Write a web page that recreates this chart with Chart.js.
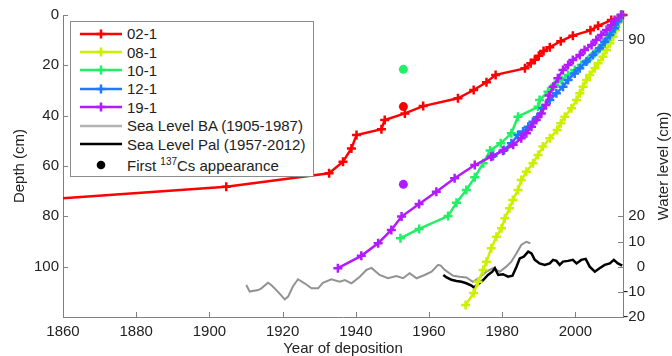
<!DOCTYPE html>
<html>
<head>
<meta charset="utf-8">
<script src="https://cdn.jsdelivr.net/npm/chart.js@4/dist/chart.umd.min.js"></script>
<style>
  body { margin: 0; background: #fff; }
  #wrap { position: relative; width: 672px; height: 356px; }
  #legend {
    position: absolute; left: 70px; top: 21px; width: 242px; height: 154px;
    border: 1px solid #8c8c8c; background: #fff;
    font: 15px "Liberation Sans", Arial, sans-serif; color: #222;
  }
  .row { position: absolute; left: 9px; height: 18px; display: flex; align-items: center; white-space: nowrap; }
  .row svg { margin-right: 5px; }
  sup { font-size: 10px; vertical-align: 6px; line-height: 0; }
</style>
</head>
<body>
<div id="wrap">
  <canvas id="chart" width="672" height="356"></canvas>
  <div id="legend"></div>
</div>
<script>
// cores
const coreNames  = ['02-1', '08-1', '10-1', '12-1', '19-1'];
const coreColors = ['#ff0000', '#ccf000', '#22ee66', '#2277ff', '#b31aff'];

const yr021 = [1840, 1904.6, 1932.7, 1936.5, 1938.8, 1940.2, 1947.0, 1947.9, 1953.4, 1958.4, 1967.9, 1972.2, 1975.7, 1978.2,
  1986.2, 1987.8, 1988.9, 1990.0, 1991.3, 1993.0, 1996.0, 1999.3, 2004.1, 2006.2, 2009.8, 2013];
const dp021 = [74.9, 68.2, 62.9, 58.3, 53.0, 47.7, 45.4, 41.7, 39.1, 36.2, 33.1, 29.8, 26.7, 23.8,
  21.2, 19.2, 17.8, 16.2, 14.3, 12.8, 10.4, 8.2, 6.1, 4.3, 2.0, 0];

const yr081 = [1970.0, 1972.2, 1973.4, 1974.8, 1975.7, 1977.0, 1978.4, 1979.8, 1980.7, 1982.0, 1982.9, 1984.3, 1985.2, 1986.6,
  1988.4, 1989.8, 1991.1, 1993.0, 1995.0, 1996.0, 1997.1, 1998.9, 2000.3, 2001.2, 2002.1, 2003.0, 2003.9, 2005.3, 2006.2,
  2007.5, 2008.5, 2009.4, 2010.3, 2011.0, 2011.6, 2012.5];
const dp081 = [115.2, 110.5, 106.0, 101.3, 98.0, 92.7, 88.1, 84.7, 80.8, 76.8, 73.5, 69.5, 65.6, 62.3,
  58.9, 55.6, 52.3, 49.0, 45.7, 43.0, 40.4, 37.1, 33.8, 31.1, 28.5, 25.8, 23.8, 21.2, 19.2,
  16.6, 13.9, 11.2, 8.6, 6.0, 3.3, 0];

const yr101 = [1952.2, 1957.3, 1965.2, 1967.5, 1970.2, 1972.5, 1974.8, 1976.7, 1979.6, 1982.5, 1984.3, 1989.8, 1990.2,
  1992.5, 1994.3, 1996.2, 1998.0, 1999.8, 2001.6, 2003.4, 2005.3, 2007.1, 2008.5, 2009.8, 2011.0, 2011.9, 2012.5];
const dp101 = [88.7, 85.0, 79.9, 74.6, 69.5, 64.5, 58.9, 53.8, 51.0, 47.0, 40.4, 36.5, 33.8,
  30.5, 27.8, 25.8, 23.8, 21.9, 19.9, 17.9, 15.2, 12.6, 9.9, 7.3, 4.6, 2.0, 0];

const yr121 = [1977.5, 1980.5, 1982.5, 1984.3, 1985.7, 1987.1, 1988.4, 1989.6, 1991.1, 1993.0, 1994.8, 1996.6, 1998.0,
  1999.8, 2001.2, 2003.0, 2004.8, 2006.6, 2008.0, 2009.4, 2010.7, 2011.6, 2012.5];
const dp121 = [56.0, 53.6, 51.0, 47.7, 46.3, 44.4, 42.4, 40.6, 37.1, 33.8, 31.1, 28.5, 25.8,
  23.2, 21.2, 18.5, 15.9, 13.2, 10.6, 7.9, 5.3, 2.6, 0];

const yr191 = [1935.1, 1941.5, 1946.1, 1949.7, 1952.5, 1957.3, 1962.0, 1967.0, 1972.5, 1977.0, 1980.2, 1983.0, 1985.2,
  1986.6, 1988.0, 1989.3, 1990.7, 1991.9, 1992.8, 1993.9, 1995.2, 1996.6, 1998.0, 1999.3, 2001.2, 2002.5, 2004.4,
  2005.7, 2007.1, 2008.5, 2009.8, 2010.7, 2012.5];
const dp191 = [100.6, 95.7, 90.7, 85.4, 80.1, 75.1, 70.2, 64.9, 59.6, 56.3, 53.9, 51.6, 49.0,
  47.0, 44.4, 41.7, 39.1, 35.8, 32.0, 28.5, 25.1, 21.9, 19.9, 17.9, 15.9, 13.9, 11.9,
  9.9, 7.9, 6.0, 4.0, 2.0, 0];

// first 137Cs appearance (02-1, 10-1, 19-1)
const csYears  = [1953, 1953, 1953];
const csDepths = [36.4, 21.6, 67.3];
const csCores  = [0, 2, 4];

// sea level (water level, cm)
const yrBA = [1910.1, 1911.0, 1913.3, 1914.2, 1916.0, 1916.9, 1918.5, 1920.6, 1921.5, 1922.8, 1924.2, 1926.0, 1927.9,
  1929.7, 1931.0, 1933.3, 1935.6, 1937.0, 1938.8, 1941.1, 1942.9, 1944.3, 1946.5, 1948.8, 1951.1, 1952.9, 1954.7,
  1956.6, 1958.8, 1960.7, 1962.5, 1963.2, 1964.3, 1966.6, 1968.4, 1970.2, 1972.0, 1973.8, 1975.7, 1977.5, 1979.3,
  1981.1, 1982.5, 1983.9, 1985.2, 1986.6, 1987.7];
const lvBA = [-7.3, -9.9, -9.3, -8.6, -6.4, -7.3, -9.6, -13.0, -11.9, -7.9, -5.0, -6.6, -8.6,
  -8.6, -6.4, -5.0, -6.0, -5.3, -6.6, -4.0, -1.3, -0.5, -3.3, -4.6, -3.7, -4.6, -2.6,
  -4.6, -3.3, -2.0, 0.7, 0.4, -1.3, -3.6, -4.0, -4.3, -6.0, -4.3, -2.0, -0.6, -2.0,
  0, 2.0, 5.3, 8.6, 9.9, 9.3];

const yrPal = [1963.9, 1964.8, 1966.1, 1967.5, 1968.9, 1970.2, 1971.6, 1972.3, 1973.4, 1974.8, 1976.1, 1977.3, 1978.0,
  1978.9, 1980.2, 1981.6, 1982.8, 1983.9, 1984.8, 1985.9, 1987.1, 1988.0, 1988.9, 1990.2, 1991.6, 1993.0, 1993.9,
  1994.8, 1995.7, 1996.6, 1998.0, 1999.3, 2000.3, 2001.6, 2002.8, 2003.9, 2005.3, 2006.6, 2008.0, 2009.4, 2010.5,
  2011.6, 2012.8];
const lvPal = [-3.3, -4.3, -5.2, -5.7, -6.0, -6.6, -7.5, -8.3, -7.0, -5.3, -3.3, -2.0, -0.6,
  -3.3, -3.0, -4.0, -3.6, 0, 3.3, 4.0, 6.0, 5.3, 2.7, 1.3, 0.7, 1.3, 2.7,
  2.3, 0.7, 2.0, 2.3, 2.7, 1.3, 2.7, 3.1, 0, -2.0, -0.6, 0.7, 1.3, 2.7,
  1.3, 0.4];

// ticks
const xTicks = [1860, 1880, 1900, 1920, 1940, 1960, 1980, 2000];
const depthTicks = [0, 20, 40, 60, 80, 100];
const levelTicks = [-20, -10, 0, 10, 20, 90];

const FONT = '"Liberation Sans", Arial, sans-serif';
Chart.defaults.font.family = FONT;
Chart.defaults.font.size = 15;
Chart.defaults.color = '#222';

function pts(xs, ys) {
  return xs.map((x, i) => ({ x: x, y: ys[i] }));
}

const coreYears = [yr021, yr081, yr101, yr121, yr191];
const coreDepths = [dp021, dp081, dp101, dp121, dp191];

let datasets = [];
coreNames.forEach((name, i) => {
  datasets.push({
    label: name,
    data: pts(coreYears[i], coreDepths[i]),
    yAxisID: 'y',
    showLine: true,
    borderColor: coreColors[i],
    backgroundColor: coreColors[i],
    borderWidth: 2.5,
    pointStyle: 'cross',
    pointRadius: 4.5,
    pointBorderWidth: 2.5,
    pointBorderColor: coreColors[i],
    tension: 0,
    clip: { left: 0, top: 6, right: 6, bottom: 0 },
    order: 7 - i
  });
});

datasets.push({
  label: 'Sea Level BA (1905-1987)',
  data: pts(yrBA, lvBA),
  yAxisID: 'y2',
  showLine: true,
  borderColor: '#929292',
  borderWidth: 2,
  pointRadius: 0,
  tension: 0,
  order: 10
});
datasets.push({
  label: 'Sea Level Pal (1957-2012)',
  data: pts(yrPal, lvPal),
  yAxisID: 'y2',
  showLine: true,
  borderColor: '#000',
  borderWidth: 2.5,
  pointRadius: 0,
  tension: 0,
  order: 9
});
datasets.push({
  label: 'First 137Cs appearance',
  data: pts(csYears, csDepths),
  yAxisID: 'y',
  showLine: false,
  pointStyle: 'circle',
  pointRadius: 4.5,
  pointBorderWidth: 0,
  pointBackgroundColor: csCores.map(c => coreColors[c]),
  order: 1
});

// inward tick marks + right axis title (reads bottom to top)
const extras = {
  id: 'extras',
  afterDraw(chart) {
    const ctx = chart.ctx;
    const a = chart.chartArea;
    const sx = chart.scales.x, sy = chart.scales.y, sy2 = chart.scales.y2;
    ctx.save();
    ctx.strokeStyle = '#808080';
    ctx.lineWidth = 1;
    ctx.beginPath();
    sx.ticks.forEach(t => {
      const px = Math.round(sx.getPixelForValue(t.value)) + 0.5;
      ctx.moveTo(px, a.bottom); ctx.lineTo(px, a.bottom - 5);
    });
    sy.ticks.forEach(t => {
      const py = Math.round(sy.getPixelForValue(t.value)) + 0.5;
      ctx.moveTo(a.left, py); ctx.lineTo(a.left + 5, py);
    });
    sy2.ticks.forEach(t => {
      const py = Math.round(sy2.getPixelForValue(t.value)) + 0.5;
      ctx.moveTo(a.right, py); ctx.lineTo(a.right - 5, py);
    });
    ctx.stroke();

    ctx.translate(664, (a.top + a.bottom) / 2);
    ctx.rotate(-Math.PI / 2);
    ctx.fillStyle = '#222';
    ctx.font = '15px ' + FONT;
    ctx.textAlign = 'center';
    ctx.textBaseline = 'middle';
    ctx.fillText('Water level (cm)', 0, 0);
    ctx.restore();
  }
};

new Chart(document.getElementById('chart'), {
  type: 'scatter',
  data: { datasets: datasets },
  options: {
    responsive: false,
    animation: false,
    events: [],
    layout: { padding: { top: 15, right: 27, left: 0, bottom: 0 } },
    plugins: { legend: { display: false }, tooltip: { enabled: false } },
    scales: {
      x: {
        type: 'linear', min: 1860, max: 2013,
        afterBuildTicks: s => { s.ticks = xTicks.map(v => ({ value: v })); },
        afterFit: s => { s.height = 39; },
        grid: { display: false, drawTicks: false },
        border: { display: true, color: '#808080' },
        ticks: { padding: 6, maxRotation: 0, autoSkip: false, callback: v => String(v) },
        title: { display: true, text: 'Year of deposition', font: { size: 15, lineHeight: 1 }, padding: { top: 0, bottom: 0 } }
      },
      y: {
        type: 'linear', position: 'left', reverse: true, min: 0, max: 120,
        afterBuildTicks: s => { s.ticks = depthTicks.map(v => ({ value: v })); },
        afterFit: s => { s.width = 63; },
        grid: { display: false, drawTicks: false },
        border: { display: true, color: '#808080' },
        ticks: { padding: 4, autoSkip: false },
        title: { display: true, text: 'Depth (cm)', font: { size: 15, lineHeight: 1 }, padding: { top: 12, bottom: 0 } }
      },
      y2: {
        type: 'linear', position: 'right', min: -20, max: 100,
        afterBuildTicks: s => { s.ticks = levelTicks.map(v => ({ value: v })); },
        afterFit: s => { s.width = 22; },
        grid: { display: false, drawTicks: false },
        border: { display: true, color: '#808080' },
        ticks: { padding: 2, autoSkip: false, crossAlign: 'far' }
      }
    }
  },
  plugins: [extras]
});

// legend box
const legendItems = coreNames.map((n, i) => ({ text: n, color: coreColors[i], kind: 'cross' }))
  .concat([
    { text: 'Sea Level BA (1905-1987)', color: '#b4b4b4', kind: 'line' },
    { text: 'Sea Level Pal (1957-2012)', color: '#000', kind: 'line' },
    { html: 'First <sup>137</sup>Cs appearance', color: '#000', kind: 'dot' }
  ]);
const legend = document.getElementById('legend');
legendItems.forEach((it, i) => {
  const row = document.createElement('div');
  row.className = 'row';
  row.style.top = (2.6 + i * 18.4 + (i === 7 ? 3 : 0)) + 'px';
  let svg = '<svg width="42" height="12" viewBox="0 0 42 12">';
  if (it.kind !== 'dot') {
    svg += '<line x1="0" y1="6" x2="42" y2="6" stroke="' + it.color + '" stroke-width="2.5"/>';
  }
  if (it.kind === 'cross') {
    svg += '<path d="M21 1.5V10.5M16.5 6H25.5" stroke="' + it.color + '" stroke-width="2.5"/>';
  }
  if (it.kind === 'dot') {
    svg += '<circle cx="21" cy="6" r="4.3" fill="' + it.color + '"/>';
  }
  svg += '</svg>';
  const span = document.createElement('span');
  if (it.html) span.innerHTML = it.html; else span.textContent = it.text;
  row.innerHTML = svg;
  row.appendChild(span);
  legend.appendChild(row);
});
</script>
</body>
</html>
